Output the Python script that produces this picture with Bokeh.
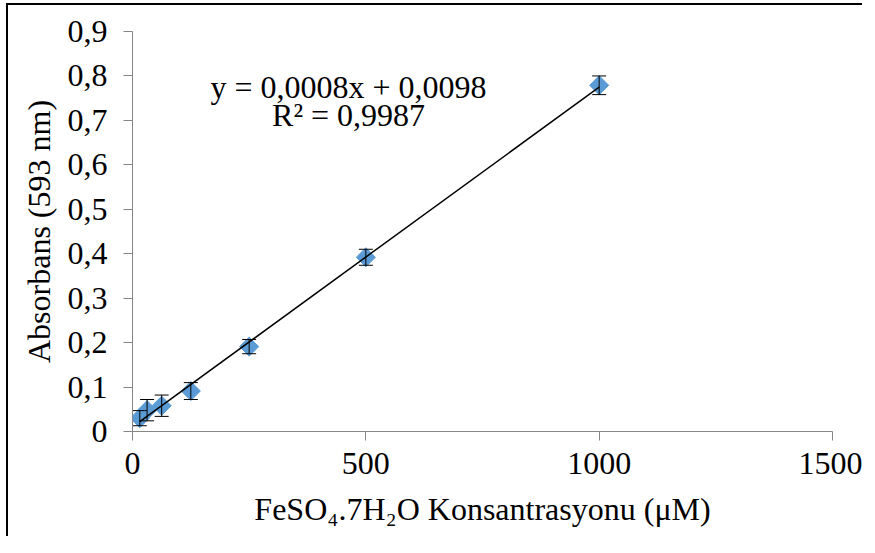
from bokeh.plotting import figure
from bokeh.layouts import column
from bokeh.models import Range1d, FixedTicker, CustomJSTickFormatter, Whisker, ColumnDataSource, Label
from bokeh.embed import file_html
from bokeh.resources import INLINE
import numpy as np

# Data
concentration = [15.625, 31.25, 62.5, 125, 250, 500, 1000]
absorbance = [0.030, 0.048, 0.058, 0.091, 0.191, 0.392, 0.779]
error = [0.017, 0.024, 0.024, 0.019, 0.016, 0.018, 0.021]
x_ticks = [0, 500, 1000, 1500]
y_ticks = [0, 0.1, 0.2, 0.3, 0.4, 0.5, 0.6, 0.7, 0.8, 0.9]
equation_lines = ["y = 0,0008x + 0,0098", "R² = 0,9987"]
x_label = "FeSO₄.7H₂O Konsantrasyonu (μM)"
y_label = "Absorbans (593 nm)"

FONT = "Liberation Serif"
FS = "32px"

p = figure(width=854, height=531, output_backend="svg", toolbar_location=None,
           x_range=Range1d(0, 1500), y_range=Range1d(0, 0.9),
           frame_width=700, frame_height=400,
           min_border_left=124, min_border_top=26, min_border_right=30, min_border_bottom=105)
p.outline_line_color = None
p.xgrid.visible = False
p.ygrid.visible = False

for ax in (p.xaxis[0], p.yaxis[0]):
    ax.axis_line_color = "#868686"
    ax.major_tick_line_color = "#868686"
    ax.major_tick_out = 9
    ax.major_tick_in = 0
    ax.minor_tick_line_color = None
    ax.major_label_text_font = FONT
    ax.major_label_text_font_size = FS
    ax.major_label_text_color = "#000000"
    ax.axis_label_text_font = FONT
    ax.axis_label_text_font_size = FS
    ax.axis_label_text_font_style = "normal"
    ax.axis_label_text_color = "#000000"

p.xaxis.ticker = FixedTicker(ticks=x_ticks)
p.yaxis.ticker = FixedTicker(ticks=y_ticks)
p.yaxis.formatter = CustomJSTickFormatter(code="""
    if (Math.abs(tick) < 1e-9) return "0";
    return tick.toFixed(1).replace('.', ',');
""")
p.xaxis.axis_label = x_label
p.yaxis.axis_label = y_label
p.xaxis.major_label_standoff = 12
p.yaxis.major_label_standoff = 16
p.xaxis.axis_label_standoff = 14
p.yaxis.axis_label_standoff = 8

x = np.array(concentration)
y = np.array(absorbance)
e = np.array(error)
src = ColumnDataSource(dict(x=x, y=y, upper=y + e, lower=y - e))

w = Whisker(source=src, base="x", upper="upper", lower="lower",
            line_color="black", line_width=1, level="glyph")
w.upper_head.size = 14
w.lower_head.size = 14
w.upper_head.line_color = "black"
w.lower_head.line_color = "black"
p.add_layout(w)

p.scatter("x", "y", source=src, marker="square", angle=np.pi / 4, size=13.5,
          fill_color="#5B9BD5", line_color="#5B9BD5")

slope, intercept = np.polyfit(x, y, 1)
xf = np.array([x.min(), x.max()])
p.line(xf, slope * xf + intercept, line_color="black", line_width=1.5)

p.add_layout(Label(x=463, y=0.776, text=equation_lines[0], text_align="center",
                   text_baseline="alphabetic", text_font=FONT, text_font_size=FS,
                   text_color="black"))
p.add_layout(Label(x=463, y=0.713, text=equation_lines[1], text_align="center",
                   text_baseline="alphabetic", text_font=FONT, text_font_size=FS,
                   text_color="black"))

layout = column(p, styles={"border-left": "2px solid #000", "border-top": "2px solid #000",
                           "margin-left": "6px", "margin-top": "3px"})

open("out.html", "w").write(file_html(layout, INLINE))
